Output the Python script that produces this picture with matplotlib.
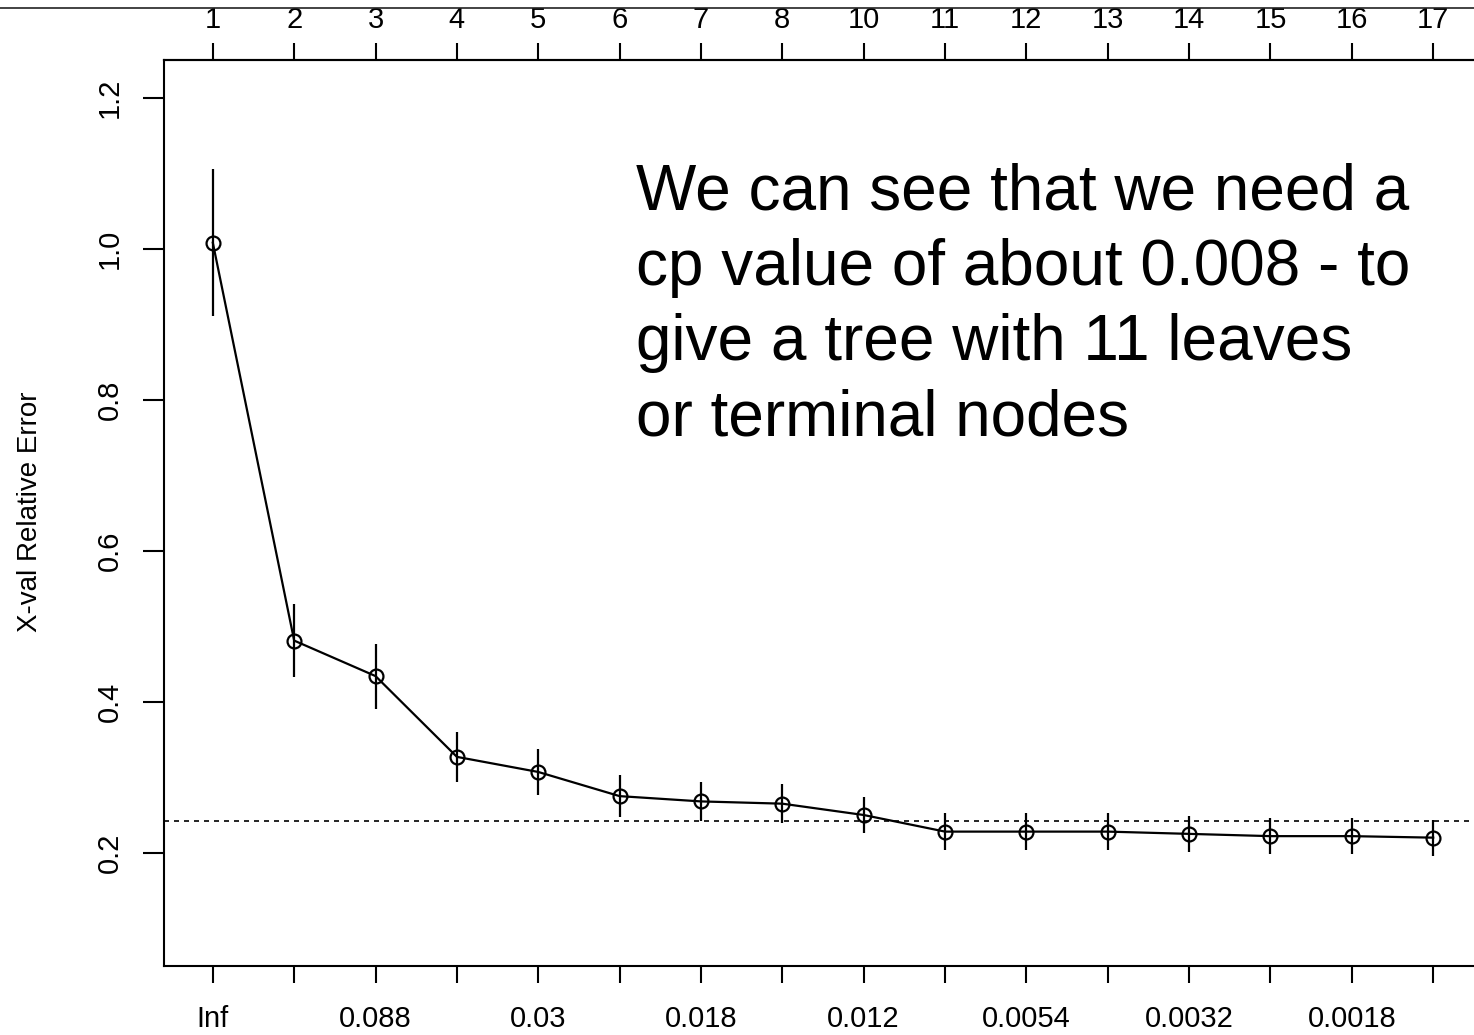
import matplotlib
matplotlib.use("Agg")
import matplotlib.pyplot as plt
from matplotlib.lines import Line2D
import numpy as np

plt.rcParams['font.family'] = ['Liberation Sans', 'DejaVu Sans']

# cross-validated relative error per tree size (rpart cptable style)
tree_size = ["1", "2", "3", "4", "5", "6", "7", "8", "10", "11", "12", "13", "14", "15", "16", "17"]
cp_labels = ["Inf", "", "0.088", "", "0.03", "", "0.018", "", "0.012", "", "0.0054", "", "0.0032", "", "0.0018", ""]
xerror = [1.008, 0.481, 0.434, 0.327, 0.307, 0.275, 0.268, 0.265, 0.250, 0.228, 0.228, 0.228, 0.225, 0.222, 0.222, 0.220]
xstd = [0.097, 0.048, 0.043, 0.033, 0.031, 0.028, 0.026, 0.026, 0.024, 0.024, 0.024, 0.024, 0.024, 0.024, 0.024, 0.024]
min_line = 0.242

W, H = 1474, 1035
fig = plt.figure(figsize=(W / 100, H / 100), dpi=100)
ax = fig.add_axes([164 / W, 1 - 966 / H, (1482 - 164) / W, (966 - 60) / H])

pos = np.arange(1, len(xerror) + 1)
y = np.array(xerror)
se = np.array(xstd)

ax.vlines(pos, y - se, y + se, color='black', lw=1.6)
ax.plot(pos, y, '-', color='black', lw=1.6, marker='o', ms=10,
        mfc='none', mec='black', mew=1.6)
ax.axhline(min_line, color='black', lw=1.2, ls=(0, (3, 3)))

ax.set_xlim(0.4, 16.6)
ax.set_ylim(0.05, 1.25)

ax.set_xticks(pos, labels=cp_labels)
ax.set_yticks([0.2, 0.4, 0.6, 0.8, 1.0, 1.2])
ax.set_yticklabels(["0.2", "0.4", "0.6", "0.8", "1.0", "1.2"], rotation=90, va='center')
ax.tick_params(axis='x', direction='out', length=12, width=1.5, pad=16, labelsize=21)
ax.tick_params(axis='y', direction='out', length=15, width=1.5, pad=14, labelsize=21)

top = ax.secondary_xaxis('top')
top.set_xticks(pos, labels=tree_size)
top.tick_params(direction='out', length=12, width=1.5, pad=7, labelsize=21)
top.spines['top'].set_linewidth(1.5)

for s in ['left', 'bottom', 'top', 'right']:
    ax.spines[s].set_linewidth(1.5)

fig.text(30 / W, 1 - 512 / H, "X-val Relative Error", rotation=90,
         ha='center', va='center', fontsize=20)

fig.text(636 / W, 1 - 162 / H,
         "We can see that we need a\ncp value of about 0.008 - to\ngive a tree with 11 leaves\nor terminal nodes",
         ha='left', va='top', fontsize=46, linespacing=1.33)

fig.add_artist(Line2D([0, 1], [1 - 8 / H, 1 - 8 / H], color='#222222', lw=1.2))

fig.savefig("out.png", dpi=100)
